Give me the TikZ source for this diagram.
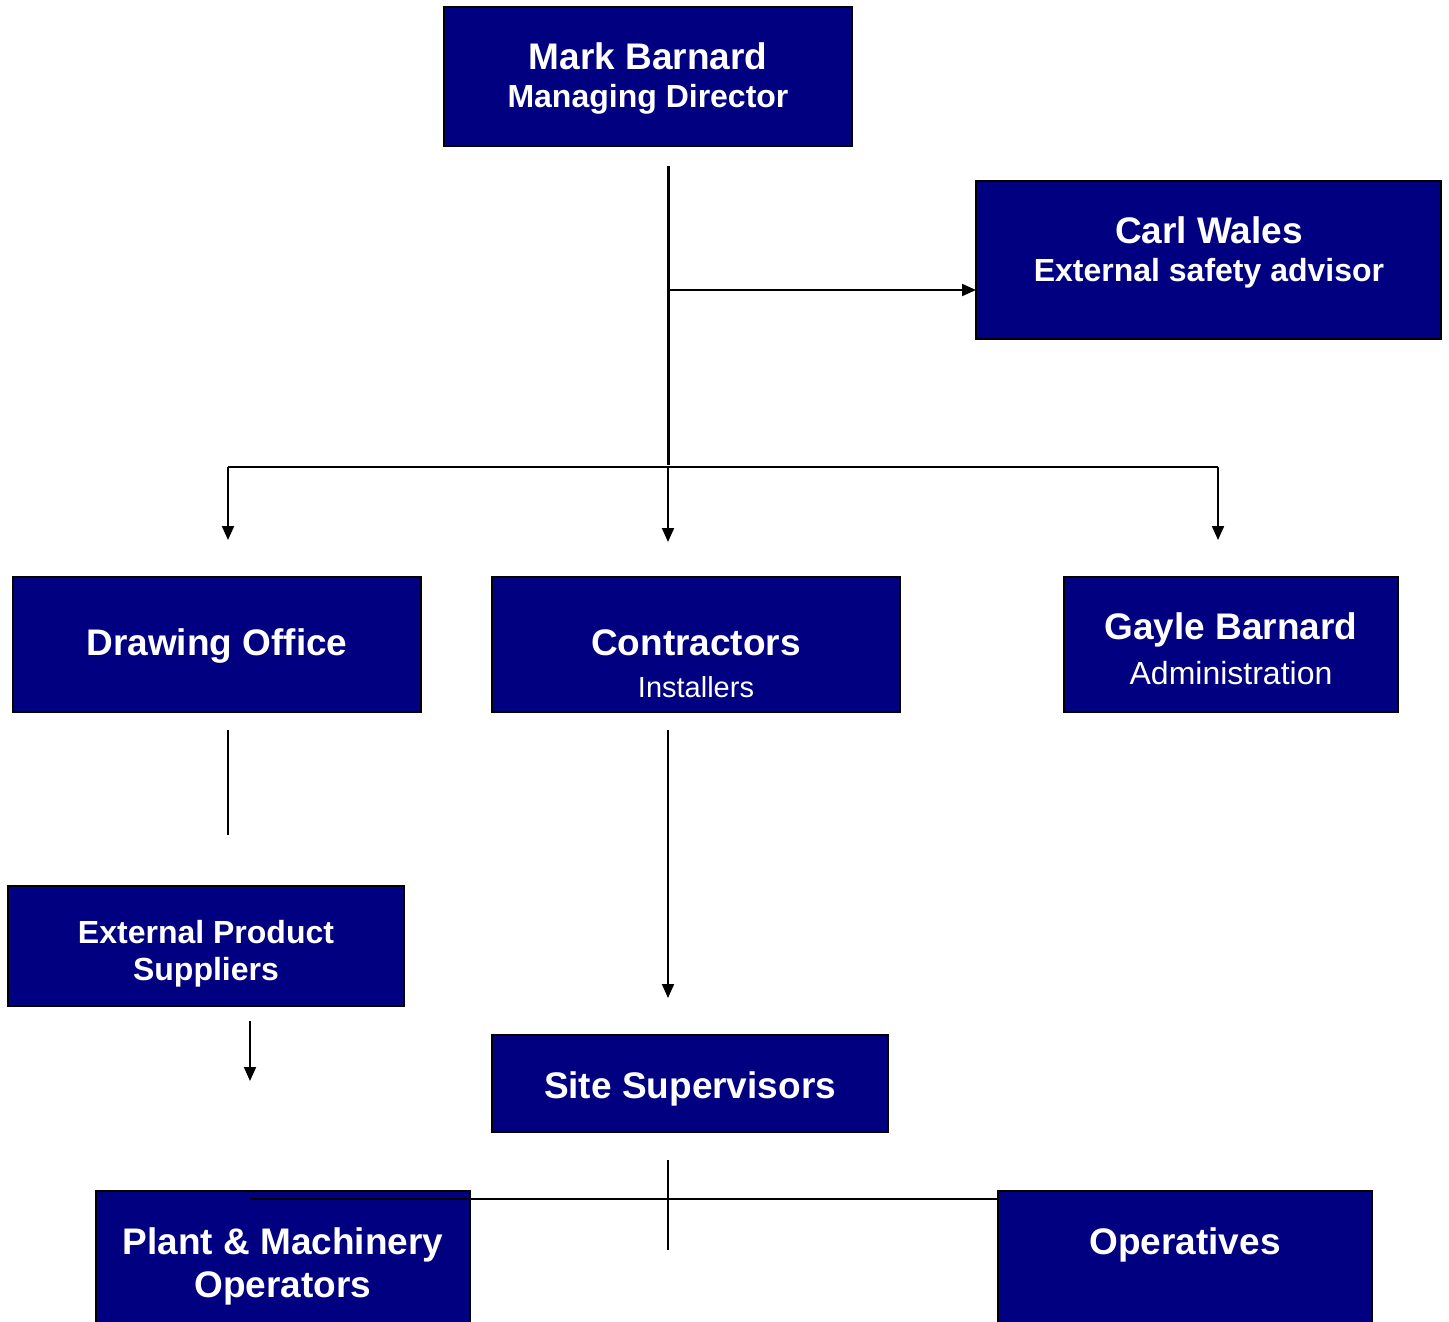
\documentclass[tikz,border=0pt]{standalone}
\usepackage{fontspec}
\setmainfont{Liberation Sans}
\usetikzlibrary{arrows.meta}
\definecolor{navybox}{HTML}{000080}
\begin{document}
\begin{tikzpicture}[x=1pt,y=-1pt,
  box/.style={draw=black, line width=2pt, fill=navybox, inner sep=0pt, outer sep=0pt, anchor=north west},
  big/.style={text=white, font=\bfseries\fontsize{37}{44}\selectfont, anchor=base, inner sep=0pt},
  subb/.style={text=white, font=\bfseries\fontsize{32}{38}\selectfont, anchor=base, inner sep=0pt},
  subr/.style={text=white, font=\fontsize{32}{38}\selectfont, anchor=base, inner sep=0pt},
  conn/.style={line width=2pt},
  arr/.style={conn, -{Triangle[length=14pt,width=12pt]}}]
\clip (0,0) rectangle (1449,1322);
\fill[white] (0,0) rectangle (1449,1322);
% boxes
\node[box, minimum width=408, minimum height=139] (mb) at (444,7) {};
\node[box, minimum width=465, minimum height=158] (cw) at (976,181) {};
\node[box, minimum width=408, minimum height=135] (do) at (13,577) {};
\node[box, minimum width=408, minimum height=135] (co) at (492,577) {};
\node[box, minimum width=334, minimum height=135] (gb) at (1064,577) {};
\node[box, minimum width=396, minimum height=120] (eps) at (8,886) {};
\node[box, minimum width=396, minimum height=97] (ss) at (492,1035) {};
\node[box, minimum width=374, minimum height=150] (pm) at (96,1191) {};
\node[box, minimum width=374, minimum height=150] (op) at (998,1191) {};
% texts
\node[big] (mbt1) at (648,70) {Mark Barnard};
\node[subb] (mbt2) at (648,107) {Managing Director};
\node[big] (cwt1) at (1209,243) {Carl Wales};
\node[subb] (cwt2) at (1209,281) {External safety advisor};
\node[big] (dot) at (217,655) {Drawing Office};
\node[big] (cot1) at (696,655) {Contractors};
\node[subr, font=\fontsize{29}{34}\selectfont] (cot2) at (696,697) {Installers};
\node[big] (gbt1) at (1231,639) {Gayle Barnard};
\node[subr] (gbt2) at (1231,684) {Administration};
\node[subb] (epst1) at (206,943) {External Product};
\node[subb] (epst2) at (206,980) {Suppliers};
\node[big] (sst) at (690,1098) {Site Supervisors};
\node[big] (pmt1) at (283,1254) {Plant \& Machinery};
\node[big] (pmt2) at (283,1297) {Operators};
\node[big] (opt) at (1185,1254) {Operatives};
% connector points
\coordinate (mbA) at (668,166);
\coordinate (mbB) at (668,465);
\coordinate (cwA) at (668,290);
\coordinate (busL) at (228,467);
\coordinate (busM) at (668,467);
\coordinate (busR) at (1218,467);
\coordinate (doIn) at (228,540);
\coordinate (coIn) at (668,542);
\coordinate (gbIn) at (1218,540);
\coordinate (doA) at (228,730);
\coordinate (doB) at (228,835);
\coordinate (coA) at (668,730);
\coordinate (coB) at (668,998);
\coordinate (epsA) at (250,1021);
\coordinate (epsB) at (250,1081);
\coordinate (ssA) at (668,1160);
\coordinate (ssB) at (668,1250);
\coordinate (pmA) at (250,1199);
% connectors
\draw[line width=3pt] (mbA) -- (mbB);
\draw[arr] (cwA) -- (cwA -| cw.west);
\draw[conn] (busL) -- (busR);
\draw[arr] (busL) -- (doIn);
\draw[arr] (busM) -- (coIn);
\draw[arr] (busR) -- (gbIn);
\draw[conn] (doA) -- (doB);
\draw[arr] (coA) -- (coB);
\draw[arr] (epsA) -- (epsB);
\draw[conn] (ssA) -- (ssB);
\draw[conn] (pmA) -- (pmA -| op.west);
\end{tikzpicture}
\end{document}
